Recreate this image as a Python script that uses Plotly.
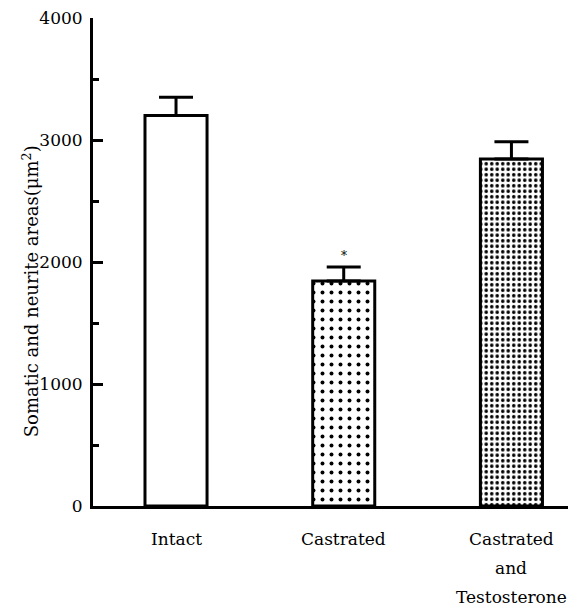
import plotly.graph_objects as go

categories = ["Intact", "Castrated", "Castrated and Testosterone"]
label_lines = [["Intact"], ["Castrated"], ["Castrated", "and", "Testosterone"]]
values = [3200, 1845, 2845]
errors = [150, 115, 140]
significance = ["", "*", ""]
y_ticks = [0, 1000, 2000, 3000, 4000]

FONT = "DejaVu Serif"
xpos = list(range(len(categories)))

fig = go.Figure()
fig.add_trace(go.Bar(
    x=xpos, y=values, width=0.37,
    marker=dict(
        color="white",
        line=dict(color="black", width=3),
        pattern=dict(
            shape=["", ".", "."],
            size=[9, 9, 5.5],
            solidity=[0.15, 0.15, 0.32],
            fgcolor="black",
            fgopacity=1,
            bgcolor="white",
            fillmode="overlay",
        ),
    ),
    error_y=dict(type="data", symmetric=False, array=errors,
                 arrayminus=[0] * len(errors), color="black",
                 thickness=3, width=17),
    showlegend=False,
))

annotations = []
for i, s in enumerate(significance):
    if s:
        annotations.append(dict(x=xpos[i], y=values[i] + errors[i], xref="x", yref="y",
                                text=s, showarrow=False, yshift=11,
                                font=dict(family=FONT, size=12, color="black")))
for i, lines in enumerate(label_lines):
    for j, t in enumerate(lines):
        annotations.append(dict(x=xpos[i], y=0, xref="x", yref="paper", text=t,
                                showarrow=False, yanchor="middle",
                                yshift=-33 - 29 * j,
                                font=dict(family=FONT, size=17, color="black")))
annotations.append(dict(x=0, xref="paper", xshift=-76, y=0.44, yref="paper",
                        text="Somatic and neurite areas(μm<sup>2</sup>)",
                        textangle=-90, showarrow=False,
                        font=dict(family=FONT, size=18, color="black")))

fig.update_layout(
    width=568, height=599,
    margin=dict(l=85, r=0, t=8, b=101),
    paper_bgcolor="white", plot_bgcolor="white",
    font=dict(family=FONT, color="black"),
    annotations=annotations,
    xaxis=dict(range=[-0.495, 2.385], showticklabels=False, ticks="",
               showline=True, linecolor="black", linewidth=3,
               showgrid=False, zeroline=False),
    yaxis=dict(range=[0, 4000], tickvals=y_ticks, ticks="inside", ticklen=10,
               tickwidth=3, tickcolor="black", showline=True, linecolor="black",
               linewidth=3, showgrid=False, zeroline=False,
               tickfont=dict(family=FONT, size=17, color="black"),
               ticklabelstandoff=4, ticklabeloverflow="allow",
               minor=dict(dtick=500, ticks="inside", ticklen=6, tickwidth=3,
                          tickcolor="black", showgrid=False)),
)

fig.write_html("out.html")
